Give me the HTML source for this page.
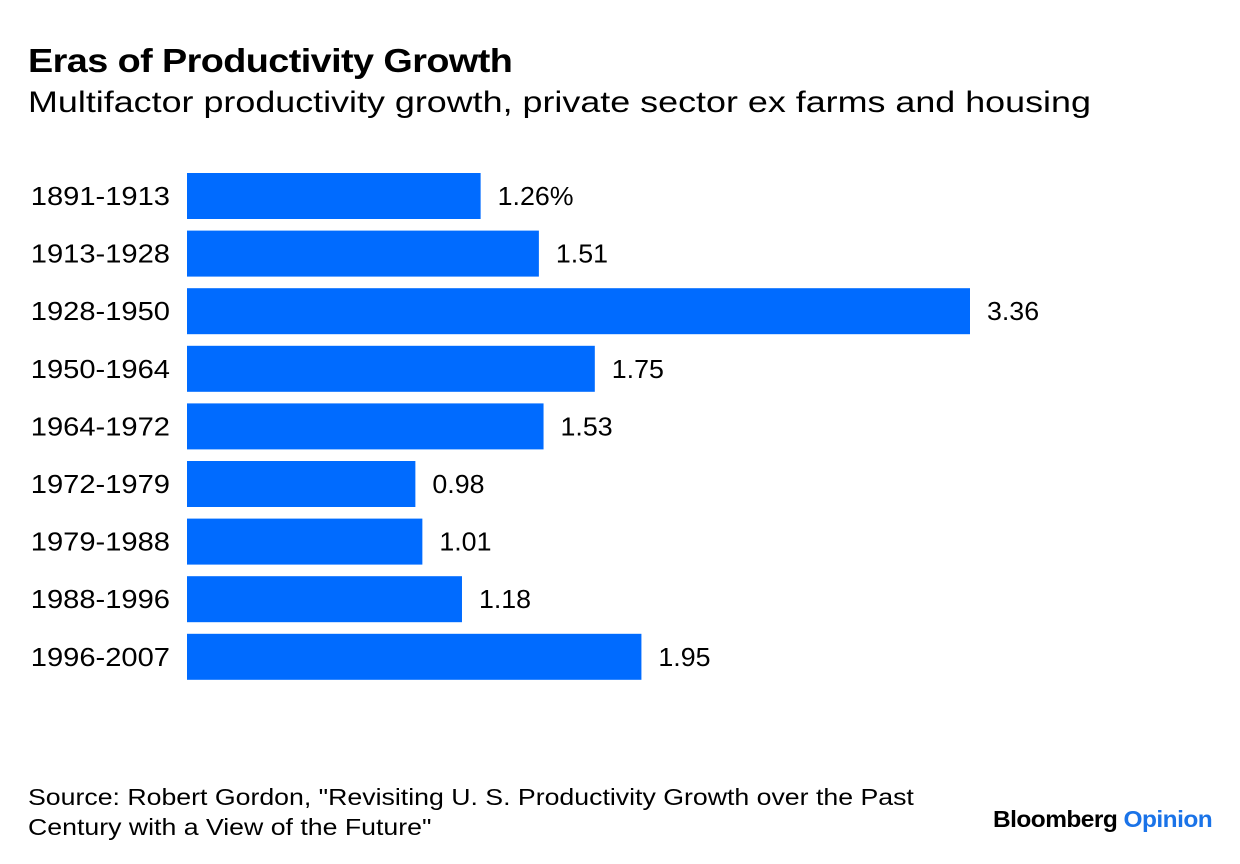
<!DOCTYPE html>
<html><head><meta charset="utf-8"><style>
body{margin:0;width:1240px;height:864px;background:#fff;font-family:"Liberation Sans",sans-serif;color:#000;position:relative;overflow:hidden}
.t{position:absolute;white-space:nowrap;transform-origin:0 0}
</style></head><body>
<div class="t" style="left:28px;top:42px;font-size:33px;font-weight:bold;letter-spacing:-0.5px;transform:scaleX(1.145)">Eras of Productivity Growth</div>
<div class="t" style="left:28px;top:86px;font-size:30px;transform:scaleX(1.196)">Multifactor productivity growth, private sector ex farms and housing</div>
<svg style="position:absolute;left:0;top:0" width="1240" height="864" id="chart"></svg>
<div class="t" style="left:28px;top:782px;font-size:23px;line-height:30px;transform:scaleX(1.16)">Source: Robert Gordon, "Revisiting U. S. Productivity Growth over the Past<br>Century with a View of the Future"</div>
<div class="t" style="left:993px;top:806px;font-size:23px;font-weight:bold;letter-spacing:-0.5px;transform:scaleX(1.063)">Bloomberg <span style="color:#1a73e8">Opinion</span></div>
<script>
const categories=["1891-1913","1913-1928","1928-1950","1950-1964","1964-1972","1972-1979","1979-1988","1988-1996","1996-2007"];
const values=[1.26,1.51,3.36,1.75,1.53,0.98,1.01,1.18,1.95];
const valueLabels=["1.26%","1.51","3.36","1.75","1.53","0.98","1.01","1.18","1.95"];
const svg=document.getElementById('chart');
const NS='http://www.w3.org/2000/svg';
const x0=187, scale=(970-187)/3.36;
const xs=v=>x0+v*scale;
const yc=i=>196+i*57.6;
const bh=46;
categories.forEach((c,i)=>{
  const r=document.createElementNS(NS,'rect');
  
  
  r.setAttribute('x',x0);r.setAttribute('y',yc(i)-bh/2);
  r.setAttribute('width',xs(values[i])-x0);r.setAttribute('height',bh);
  r.setAttribute('fill','#006bff');
  svg.appendChild(r);
  const l=document.createElementNS(NS,'text');
  
  
  l.setAttribute('x',170);l.setAttribute('y',yc(i)+9);
  l.setAttribute('text-anchor','end');l.setAttribute('font-size','26');
  l.setAttribute('transform','translate(170,0) scale(1.12,1) translate(-170,0)');
  l.textContent=c;svg.appendChild(l);
  const v=document.createElementNS(NS,'text');
  
  
  const vx=xs(values[i])+17;
  v.setAttribute('x',vx);v.setAttribute('y',yc(i)+9);
  v.setAttribute('font-size','26');
  v.setAttribute('transform','translate('+vx+',0) scale(1.03,1) translate('+(-vx)+',0)');
  v.textContent=valueLabels[i];svg.appendChild(v);
});
</script>
</body></html>
